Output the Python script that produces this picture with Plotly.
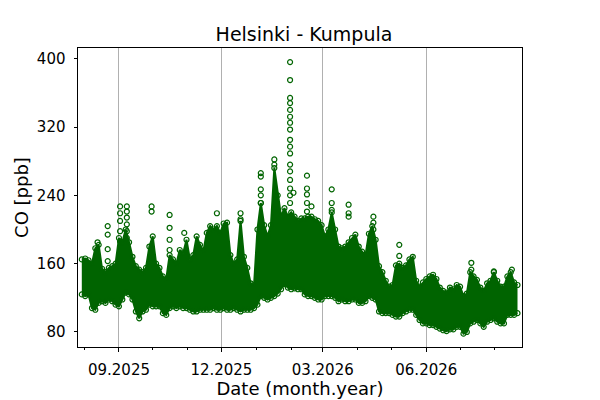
import pandas as pd
import plotly.graph_objects as go

# CO at Helsinki - Kumpula in 3-day steps:
# lower and upper edge of the dense band (ppb)
start_date = "2025-07-30"
co_low = [
    124, 122, 124, 108, 106, 114, 116, 114, 118, 116,
    112, 110, 118, 126, 124, 118, 104, 96, 104, 106,
    112, 110, 110, 110, 102, 100, 108, 110, 108, 110,
    108, 108, 106, 104, 104, 106, 106, 106, 106, 108,
    106, 106, 108, 106, 106, 108, 106, 104, 106, 106,
    106, 108, 112, 122, 120, 118, 120, 122, 125, 130,
    136, 132, 130, 131, 130, 130, 124, 122, 122, 120,
    118, 118, 122, 122, 122, 120, 116, 118, 116, 116,
    118, 118, 114, 114, 116, 122, 120, 118, 104, 102,
    102, 102, 100, 98, 98, 102, 104, 106, 106, 100,
    94, 90, 90, 88, 88, 86, 84, 82, 81, 83,
    83, 86, 86, 78, 80, 90, 92, 94, 90, 86,
    92, 94, 96, 92, 90, 90, 100, 100, 100, 102,
]
co_high = [
    165, 166, 164, 160, 178, 182, 154, 150, 155, 157,
    160, 190, 185, 200, 185, 168, 157, 153, 150, 155,
    180, 192, 160, 155, 145, 142, 170, 165, 160, 176,
    172, 188, 165, 170, 192, 182, 175, 196, 204, 200,
    204, 196, 207, 208, 170, 160, 165, 210, 168, 155,
    137, 135, 200, 231, 205, 192, 205, 272, 240, 215,
    225, 215, 220, 215, 210, 213, 213, 215, 215, 212,
    210, 205, 192, 200, 220, 200, 180, 178, 180, 185,
    190, 194, 180, 174, 170, 195, 204, 188, 157, 150,
    140, 133, 135, 158, 160, 155, 158, 165, 168, 140,
    133, 138, 142, 145, 147, 142, 132, 128, 126, 132,
    130, 135, 133, 122, 125, 150, 145, 141, 132, 128,
    137, 140, 150, 140, 133, 133, 145, 150, 138, 135,
]

# isolated high readings above the band
spike_dates = (
    ["2025-08-13"] + ["2025-08-22"] * 4 + ["2025-09-02"] * 5
    + ["2025-09-08"] * 6 + ["2025-09-30"] * 2 + ["2025-10-16"] * 4
    + ["2025-10-29", "2025-11-27"] + ["2025-12-18"] * 2
    + ["2026-01-05"] * 5 + ["2026-01-17"] * 2 + ["2026-01-31"] * 17
    + ["2026-02-03"] + ["2026-02-15"] * 5 + ["2026-02-19"]
    + ["2026-03-09"] * 3 + ["2026-03-24"] * 3 + ["2026-04-15"] * 3
    + ["2026-05-08"] * 2 + ["2026-07-11"] * 2 + ["2026-07-31", "2026-08-16"]
)
spike_values = [
    185, 204, 194, 177, 163, 227, 219, 210, 198, 186,
    227, 221, 214, 206, 198, 190, 227, 221, 217, 202, 188, 176,
    196, 219, 219, 212, 266, 262, 247, 240, 231, 282, 276,
    396, 375, 354, 348, 340, 332, 325, 317, 305, 297, 289, 276, 268, 258, 248, 240, 231,
    243, 263, 248, 241, 231, 221, 227, 247, 231, 223, 229, 219, 215,
    215, 208, 200, 182, 169, 161, 153, 151, 153,
]

dates = pd.date_range(start_date, periods=len(co_low), freq="3D")

green = "#006400"
circle = dict(symbol="circle-open", size=5, color=green, line=dict(width=1.2))
font = "DejaVu Sans"

fig = go.Figure()
fig.add_trace(go.Scatter(x=dates, y=co_low, mode="lines+markers",
                         line=dict(color=green, width=2), marker=circle))
fig.add_trace(go.Scatter(x=dates, y=co_high, mode="lines+markers", fill="tonexty",
                         fillcolor=green, line=dict(color=green, width=2), marker=circle))
fig.add_trace(go.Scatter(x=spike_dates, y=spike_values, mode="markers", marker=circle))

# page body adds an 8px margin, so the figure is 8px smaller and shifted
fig.update_layout(
    width=592, height=392,
    margin=dict(l=70, r=78, t=40, b=53),
    paper_bgcolor="white", plot_bgcolor="white",
    showlegend=False,
    font=dict(family=font, color="black", size=15),
    title=dict(text="Helsinki - Kumpula", x=0.5, xanchor="center",
               y=0.934, yanchor="middle", font=dict(size=19), automargin=False),
)
fig.update_xaxes(
    type="date", range=["2025-07-26 15:00", "2026-08-25 00:00"],
    tickformat="%m.%Y", dtick="M3", tick0="2025-09-01",
    ticks="outside", ticklen=3.5, tickwidth=0.8, tickcolor="black",
    ticklabelstandoff=5,
    showline=True, linecolor="black", linewidth=1, mirror=True,
    showgrid=True, gridcolor="#b0b0b0", gridwidth=0.8, zeroline=False,
    minor=dict(dtick="M1", tick0="2025-08-01", ticks="outside", ticklen=2,
               tickcolor="black", tickwidth=0.6, showgrid=False),
    title=dict(text="Date (month.year)", font=dict(size=18), standoff=0),
    automargin=False,
)
fig.update_yaxes(
    range=[62.4, 412.5], tickvals=[80, 160, 240, 320, 400],
    ticks="outside", ticklen=3.5, tickwidth=0.8, tickcolor="black",
    ticklabelstandoff=5,
    showline=True, linecolor="black", linewidth=1, mirror=True,
    showgrid=False, zeroline=False,
    title=dict(text="CO [ppb]", font=dict(size=18), standoff=3),
    automargin=False,
)

fig.write_html("out.html")
